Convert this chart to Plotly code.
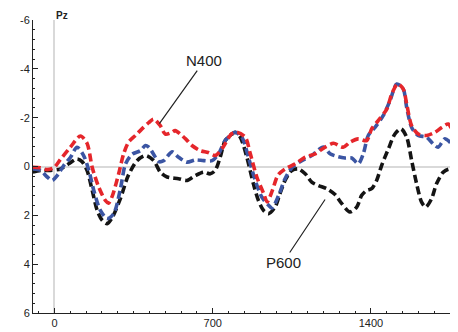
import plotly.graph_objects as go

# ---- data (time in ms, amplitude in µV; y axis plotted negative-up) ----
red_t = [-96, -62, -32, -3, 27, 71, 115, 144, 167, 196, 225, 239, 256, 284, 306, 328, 358, 387,
         417, 439, 468, 490, 520, 534, 579, 608, 645, 680, 711, 741, 785, 807, 844, 866, 895, 925,
         941, 963, 989, 1020, 1065, 1109, 1153, 1197, 1234, 1277, 1307, 1344, 1381, 1403, 1432,
         1470, 1492, 1518, 1543, 1558, 1580, 1609, 1646, 1683, 1713, 1742, 1764, 1785]
red_v = [0.03, 0.05, 0.13, 0.05, -0.3, -0.8, -1.25, -0.95, 0.04, 0.85, 1.39, 1.5, 1.2, 0.3, -0.52,
         -1.0, -1.27, -1.54, -1.8, -1.94, -1.67, -1.33, -1.4, -1.47, -1.14, -0.86, -0.65, -0.57,
         -0.45, -0.73, -1.35, -1.4, -1.2, -0.53, 0.43, 1.1, 1.45, 1.0, 0.35, 0.1, -0.11, -0.38,
         -0.52, -0.79, -0.95, -0.79, -0.99, -1.13, -1.06, -1.54, -1.88, -2.35, -2.97, -3.38, -3.17,
         -2.56, -1.67, -1.33, -1.27, -1.4, -1.6, -1.74, -1.4, -1.13]

blue_t = [-96, -62, -32, -10, 12, 41, 71, 100, 129, 152, 174, 203, 233, 262, 292, 314, 343, 380,
          402, 417, 432, 461, 483, 520, 549, 586, 623, 660, 697, 726, 755, 785, 799, 829, 858, 888,
          917, 947, 962, 991, 1020, 1050, 1094, 1138, 1190, 1219, 1256, 1285, 1315, 1344, 1366,
          1388, 1418, 1454, 1484, 1514, 1543, 1558, 1580, 1609, 1646, 1675, 1697, 1727, 1756, 1778]
blue_v = [0.1, 0.16, 0.43, 0.57, 0.37, -0.04, -0.38, -0.79, -0.45, 0.16, 0.98, 1.8, 2.13, 1.93,
          0.9, -0.1, -0.5, -0.65, -0.86, -0.79, -0.6, -0.2, -0.24, -0.6, -0.38, -0.18, -0.27, -0.24,
          -0.24, -0.52, -1.06, -1.33, -1.4, -1.2, -0.38, 0.57, 1.25, 1.59, 1.7, 1.2, 0.5, 0.05,
          -0.24, -0.45, -0.8, -0.52, -0.4, -0.35, -0.35, -0.11, -0.52, -1.27, -1.6, -2.08, -2.69,
          -3.38, -3.17, -2.42, -1.6, -1.27, -1.2, -0.93, -0.79, -1.13, -0.93, -0.58]

black_t = [-96, -62, -18, 27, 63, 100, 122, 144, 167, 189, 211, 233, 255, 292, 325, 365, 402, 439,
           468, 498, 549, 586, 623, 660, 689, 711, 733, 755, 785, 799, 822, 851, 880, 902, 925, 947,
           976, 998, 1020, 1050, 1079, 1109, 1138, 1167, 1205, 1241, 1271, 1307, 1337, 1359, 1381,
           1403, 1425, 1447, 1477, 1506, 1533, 1558, 1580, 1602, 1624, 1642, 1668, 1690, 1720,
           1749, 1785]
black_v = [0.23, 0.16, 0.16, 0.1, -0.11, -0.31, -0.2, 0.16, 0.98, 1.8, 2.2, 2.34, 2.1, 1.3, 0.4,
           -0.24, -0.45, -0.24, 0.23, 0.43, 0.5, 0.57, 0.37, 0.23, 0.3, 0.16, -0.38, -1.06, -1.33,
           -1.4, -1.2, -0.38, 0.71, 1.39, 1.8, 1.93, 1.66, 1.1, 0.57, 0.16, 0.1, 0.3, 0.64, 0.78,
           0.91, 1.15, 1.52, 1.86, 1.66, 1.18, 0.98, 0.91, 0.57, -0.04, -0.72, -1.33, -1.54, -1.2,
           -0.24, 0.71, 1.46, 1.66, 1.32, 0.71, 0.23, 0.1, 0.3]

x_ticks = [0, 700, 1400]
y_ticks = [-6, -4, -2, 0, 2, 4, 6]

series = [
    ("black", black_t, black_v, "#141414"),
    ("blue", blue_t, blue_v, "#3b55a3"),
    ("red", red_t, red_v, "#e5262b"),
]

fig = go.Figure()
for name, t, v, col in series:
    fig.add_trace(go.Scatter(
        x=t, y=v, mode="lines", name=name,
        line=dict(color=col, width=3.6, dash="8px,4px", shape="spline", smoothing=0.8),
        hoverinfo="skip",
    ))

font_fam = "Liberation Sans, Arial, sans-serif"

# the page body has an 8px margin, so the figure is 8px smaller and margins compensate
fig.update_layout(
    width=450, height=324,
    margin=dict(l=25, r=0, t=12, b=19, pad=0),
    paper_bgcolor="white", plot_bgcolor="white",
    showlegend=False,
    font=dict(family=font_fam, size=11, color="#222222"),
    xaxis=dict(
        range=[-95, 1785], tickvals=x_ticks, ticktext=[str(v) for v in x_ticks],
        showgrid=False, zeroline=True, zerolinecolor="#d9d9d9", zerolinewidth=2,
        showline=True, linecolor="#222222", linewidth=1,
        ticks="inside", ticklen=5, tickcolor="#222222",
        minor=dict(dtick=70, tick0=0, ticks="inside", ticklen=2, tickcolor="#222222"),
        tickfont=dict(size=11, color="#222222"),
    ),
    yaxis=dict(
        range=[6, -6], tickvals=y_ticks,
        ticktext=[str(v) if v >= 0 else "-" + str(abs(v)) for v in y_ticks],
        showgrid=False, zeroline=True, zerolinecolor="#d9d9d9", zerolinewidth=2,
        showline=True, linecolor="#222222", linewidth=1,
        ticks="inside", ticklen=5, tickcolor="#222222",
        minor=dict(dtick=0.4, tick0=0, ticks="inside", ticklen=2, tickcolor="#222222"),
        tickfont=dict(size=11, color="#222222"),
    ),
    annotations=[
        dict(x=0, y=1, xref="x", yref="paper", text="<b>Pz</b>", showarrow=False,
             xanchor="left", yanchor="bottom", xshift=1, yshift=-2, borderpad=0,
             font=dict(size=10, color="#222222", family=font_fam)),
        dict(x=464, y=-1.76, xref="x", yref="y", text="N400", showarrow=True,
             arrowhead=0, arrowwidth=1.2, arrowcolor="#222222", ax=45, ay=-63,
             font=dict(size=15, color="#222222", family=font_fam)),
        dict(x=1197, y=1.35, xref="x", yref="y", text="P600", showarrow=True,
             arrowhead=0, arrowwidth=1.2, arrowcolor="#222222", ax=-42, ay=63,
             font=dict(size=15, color="#222222", family=font_fam)),
    ],
)

fig.write_html("out.html")
